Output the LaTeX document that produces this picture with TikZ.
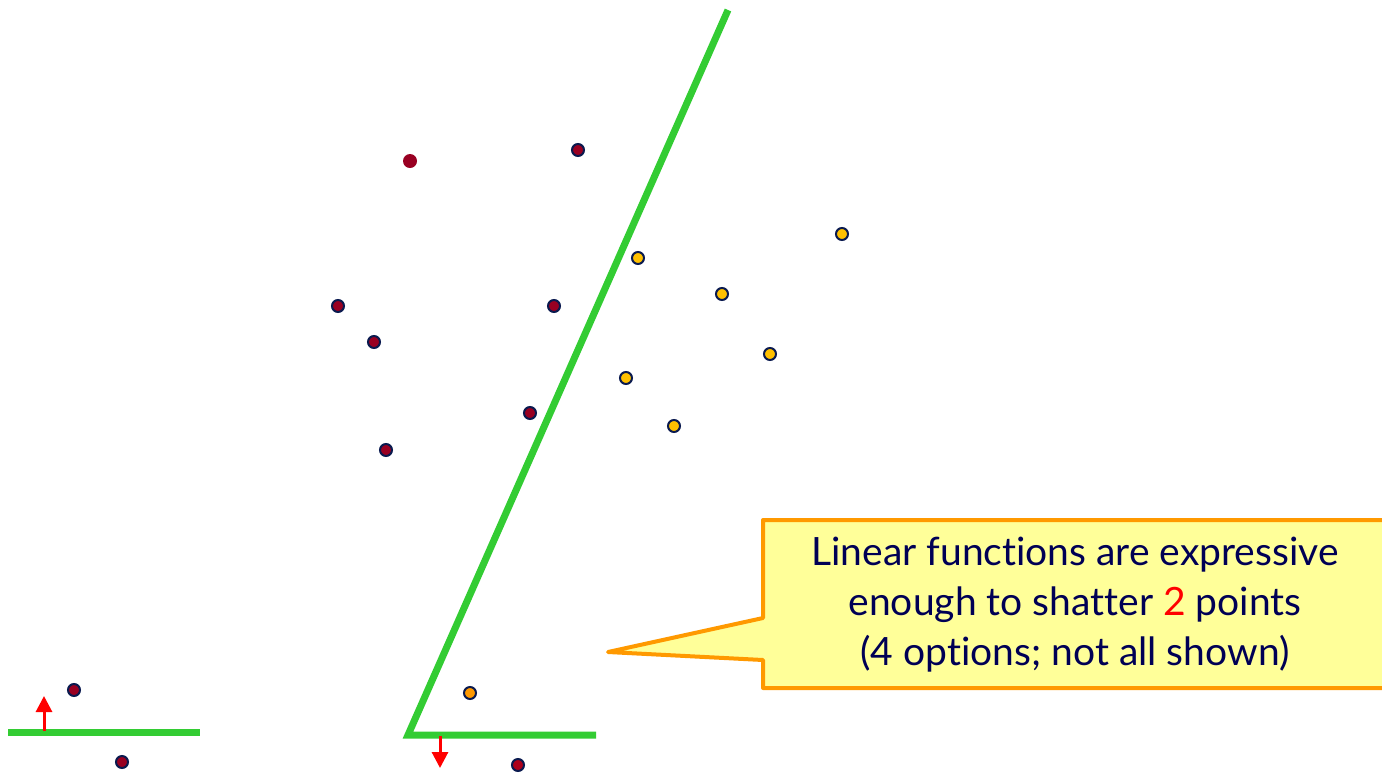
\documentclass[tikz,border=0pt]{standalone}
\usepackage{fontspec}
\setmainfont{Lato}[Ligatures=NoCommon]
\usepackage{xcolor}
\usetikzlibrary{arrows.meta,positioning,calc}

\definecolor{sepgreen}{HTML}{33CC33}
\definecolor{negred}{HTML}{990022}
\definecolor{posgold}{HTML}{FFC000}
\definecolor{posorange}{HTML}{FF9900}
\definecolor{dotnavy}{HTML}{0A1A4F}
\definecolor{calloutfill}{HTML}{FFFF99}
\definecolor{calloutline}{HTML}{FF9900}
\definecolor{textnavy}{HTML}{000055}

\begin{document}
\begin{tikzpicture}[
  x=0.5pt, y=-0.5pt,
  negdot/.style={circle, fill=negred, draw=dotnavy, line width=1pt, inner sep=0pt, minimum size=6pt},
  negplain/.style={circle, fill=negred, inner sep=0pt, minimum size=7pt},
  posdot/.style={circle, fill=posgold, draw=dotnavy, line width=1pt, inner sep=0pt, minimum size=6pt},
  sep/.style={sepgreen, line width=3.5pt},
  normal/.style={-{Triangle[length=8pt, width=8pt]}, red, line width=1.5pt},
  callout/.style={fill=calloutfill, draw=calloutline, line width=2pt, line join=round}
]
  \useasboundingbox (0,0) rectangle (1382,773);

  % points of the big example
  \node[negplain] (n1) at (410,161) {};
  \node[negdot] (n2) at (578,150) {};
  \node[negdot] (n3) at (338,306) {};
  \node[negdot] (n4) at (374,342) {};
  \node[negdot] (n5) at (554,306) {};
  \node[negdot] (n6) at (530,413) {};
  \node[negdot] (n7) at (386,450) {};
  \node[posdot] (p1) at (638,258) {};
  \node[posdot] (p2) at (842,234) {};
  \node[posdot] (p3) at (722,294) {};
  \node[posdot] (p4) at (770,354) {};
  \node[posdot] (p5) at (626,378) {};
  \node[posdot] (p6) at (674,426) {};

  % separator of the big example
  \coordinate (top) at (728,10);
  \coordinate (corner) at (408,735);
  \coordinate (right) at (596,735);
  \draw[sep, line join=miter] (top) -- (corner) -- (right);

  % two points, left
  \node[negdot] (la) at (74,690) {};
  \node[negdot] (lb) at (122,762) {};
  \coordinate (ll) at (8,732);
  \coordinate (lr) at (200,732);
  \draw[sep] (ll) -- (lr);
  \coordinate (lfoot) at (44,731);
  \coordinate (lhead) at (44,696);
  \draw[normal] (lfoot) -- (lhead);

  % two points, middle
  \node[posdot, fill=posorange] (ma) at (470,693) {};
  \node[negdot, fill=negred!80!red] (mb) at (518,765) {};
  \coordinate (mfoot) at (440,736);
  \coordinate (mhead) at (440,768);
  \draw[normal] (mfoot) -- (mhead);

  % callout
  \coordinate (tip) at (608,652);
  \draw[callout] (763,520) -- (1384,520) -- (1384,688) -- (763,688)
    -- (763,660) -- (tip) -- (763,618) -- cycle;
  \node[align=center, text=textnavy, font=\fontsize{19.5}{25}\selectfont] (msg) at (1075,605)
    {Linear functions are expressive\\enough to shatter \textcolor{red}{2} points\\(4 options; not all shown)};
\end{tikzpicture}
\end{document}
